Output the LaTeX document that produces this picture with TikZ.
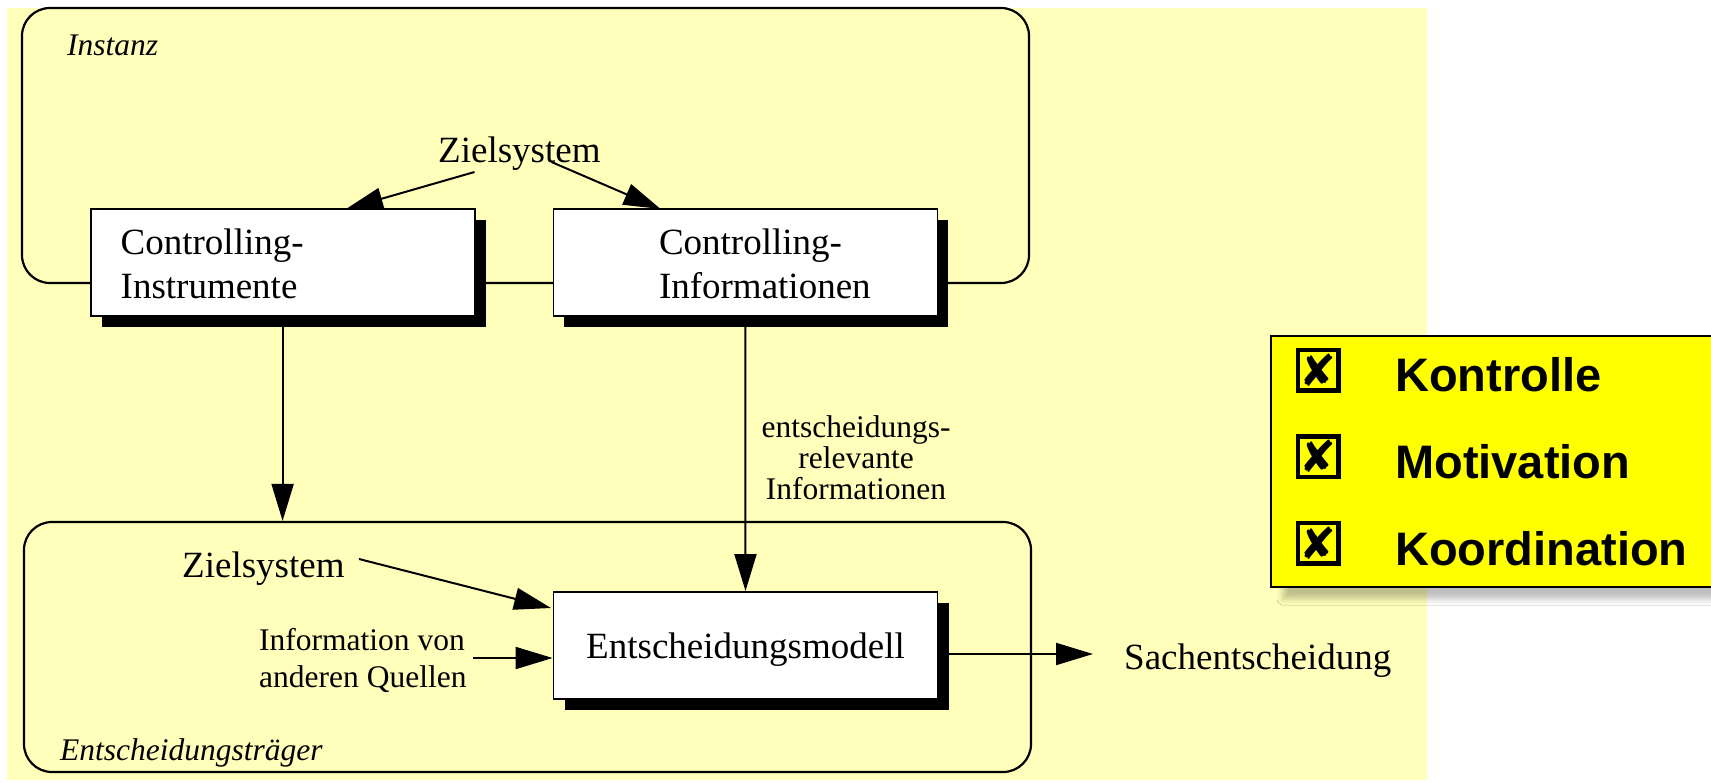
\documentclass[tikz,border=0pt]{standalone}
\usepackage{fontspec}
\setmainfont{Liberation Serif}
\newfontfamily\calloutfont{Liberation Sans}
\newfontfamily\symfont{DejaVu Sans}
\usetikzlibrary{arrows.meta,shadows,shadows.blur}
\definecolor{paleyellow}{RGB}{255,255,187}
\definecolor{callyellow}{RGB}{255,255,0}
\begin{document}
\begin{tikzpicture}[x=1pt,y=-1pt,
  mainfont/.style={font=\fontsize{37}{44}\selectfont},
  smallfont/.style={font=\fontsize{31.5}{33}\selectfont},
  itfont/.style={font=\fontsize{31.5}{36}\selectfont\itshape},
  txt/.style={inner sep=0pt, anchor=base west},
  ctxt/.style={inner sep=0pt, anchor=base},
  box/.style={draw=black, line width=1.8pt, fill=white, minimum width=384pt,
    minimum height=107pt, inner sep=0pt,
    drop shadow={shadow xshift=11pt, shadow yshift=-11pt, fill=black, opacity=1}},
  region/.style={draw=black, line width=2.2pt, rounded corners=28pt, inner sep=0pt},
  arr/.style={line width=2pt, -{Triangle[length=37pt,width=22pt]}},
  chk/.style={draw=black, line width=4.5pt, minimum size=40.5pt, inner sep=0pt,
    font=\symfont\fontsize{44}{44}\selectfont},
  calltxt/.style={inner sep=0pt, anchor=base west, font=\calloutfont\bfseries\fontsize{47}{50}\selectfont},
]
\clip (0,0) rectangle (1711,782);
\fill[white] (0,0) rectangle (1711,782);
\fill[paleyellow] (7,8) rectangle (1427,780);

% regions
\node[region, minimum width=1007pt, minimum height=275pt] (inst) at (525.5,145.5) {};
\node[region, minimum width=1007pt, minimum height=250pt] (dm) at (527.5,647) {};
\node[itfont, txt] (instl) at (67,55) {Instanz};
\node[itfont, txt] (dml) at (60,760) {Entscheidungsträger};

% boxes
\node[box] (ci) at (282.6,262.3) {};
\node[box] (cinfo) at (745.4,262.3) {};
\node[box] (em) at (745.5,645.4) {};

\node[mainfont, txt] (ci1) at (120.5,254) {Controlling-};
\node[mainfont, txt] (ci2) at (120.5,298) {Instrumente};
\node[mainfont, txt] (cf1) at (658.8,254) {Controlling-};
\node[mainfont, txt] (cf2) at (658.8,298) {Informationen};
\node[mainfont, ctxt] (emt) at (745.5,658) {Entscheidungsmodell};

% other texts
\node[mainfont, txt] (z1) at (438,162) {Zielsystem};
\node[mainfont, txt] (z2) at (182,577) {Zielsystem};
\node[smallfont, txt] (iq1) at (259,650) {Information von};
\node[smallfont, txt] (iq2) at (259,687) {anderen Quellen};
\node[smallfont, ctxt] (er1) at (856,437) {entscheidungs-};
\node[smallfont, ctxt] (er2) at (856,468) {relevante};
\node[smallfont, ctxt] (er3) at (856,499.5) {Informationen};
\node[mainfont, txt] (se) at (1124,669) {Sachentscheidung};

% connectors
\coordinate (za) at (474.5,172);
\coordinate (zat) at (346,209);
\coordinate (zb) at (551.5,162);
\coordinate (zbt) at (660.6,209);
\draw[arr] (za) -- (zat);
\draw[arr] (zb) -- (zbt);
\draw[arr] (ci.south) -- (ci.south |- dm.north);
\draw[arr] (cinfo.south) -- (em.north);
\coordinate (z2a) at (359,559);
\coordinate (z2t) at (551,608);
\draw[arr] (z2a) -- (z2t);
\coordinate (iqa) at (473,658);
\draw[arr] (iqa) -- (iqa -| em.west);
\coordinate (oa) at (937.5,654);
\coordinate (ot) at (1093,654);
\draw[arr] (oa) -- (ot);

% callout
\node[draw=black, line width=2pt, fill=callyellow, minimum width=459pt, minimum height=251pt,
  inner sep=0pt,
  blur shadow={shadow xshift=12pt, shadow yshift=-12pt, shadow blur radius=6pt, shadow opacity=25}]
  (cb) at (1500.5,461.5) {};
\node[chk] (k1) at (1318,370) {✘};
\node[chk] (k2) at (1318,456.5) {✘};
\node[chk] (k3) at (1318,543) {✘};
\node[calltxt] (t1) at (1395,391.7) {Kontrolle};
\node[calltxt] (t2) at (1395,478.3) {Motivation};
\node[calltxt] (t3) at (1395,565) {Koordination};
\end{tikzpicture}
\end{document}
